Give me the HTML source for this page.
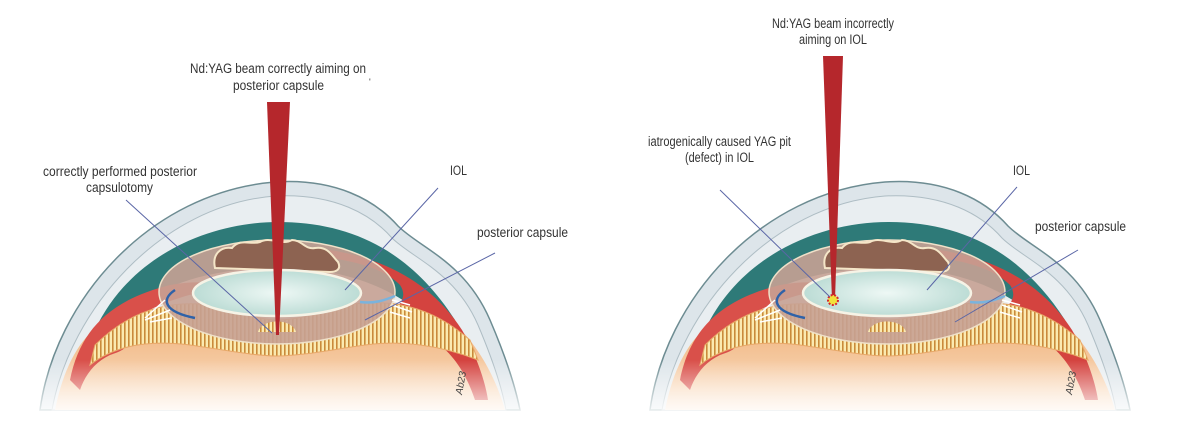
<!DOCTYPE html>
<html><head><meta charset="utf-8"><style>
html,body{margin:0;padding:0;background:#fff;width:1200px;height:421px;overflow:hidden}
text{font-family:"Liberation Sans",sans-serif;font-size:13.5px;fill:#333}
</style></head><body>
<svg width="1200" height="421" viewBox="0 0 1200 421" xmlns="http://www.w3.org/2000/svg">
<defs>
<pattern id="st" width="4" height="10" patternUnits="userSpaceOnUse">
<rect width="4" height="10" fill="#fbeab0"/><rect width="1.6" height="10" fill="#c98a3a"/>
</pattern>
<linearGradient id="vit" x1="0" y1="0" x2="0" y2="1">
<stop offset="0" stop-color="#f0b27a"/><stop offset="1" stop-color="#fbe3cc"/>
</linearGradient>
<linearGradient id="fade" x1="0" y1="0" x2="0" y2="1">
<stop offset="0" stop-color="#fff" stop-opacity="0"/><stop offset="1" stop-color="#fff" stop-opacity="1"/>
</linearGradient>
<radialGradient id="iol" cx="0.5" cy="0.5" r="0.5">
<stop offset="0" stop-color="#eef8f5"/><stop offset="1" stop-color="#bcdcd5"/>
</radialGradient>
<g id="eye">
<path d="M40,410 C55,300 150,192 275,182 C335,178 375,200 398,226 C420,248 465,262 490,320 C505,355 515,385 520,410 Z" fill="#dde5ea" stroke="#6d8c92" stroke-width="1.5"/>
<path d="M52,410 C70,310 160,205 275,196 C335,193 372,215 392,238 C412,258 455,272 478,325 C492,358 502,388 506,410 Z" fill="#e9eef1" stroke="#aebdc4" stroke-width="1"/>
<path d="M95,330 C130,255 210,222 278,222 C350,222 410,250 455,320 L440,330 C400,290 350,268 278,268 C200,268 140,290 110,335 Z" fill="#2e7a78"/>
<path d="M55,410 C65,360 85,330 110,320 L450,320 C475,340 495,375 505,410 Z" fill="url(#vit)"/>
<path d="M70,380 C80,330 110,300 170,285 C200,280 215,282 200,292 C170,300 140,310 125,330 C115,345 140,345 110,355 C95,362 85,375 80,390 Z" fill="#d9504a"/>
<path d="M330,250 C380,258 430,280 462,330 C475,352 485,380 488,400 L475,400 C465,370 450,350 430,338 C420,330 400,322 380,318 C395,310 410,300 400,285 C385,270 360,262 330,258 Z" fill="#d4433f"/>
<path d="M95,345 C130,310 170,300 210,305 C240,312 260,320 277,320 C300,320 320,312 345,305 C390,298 430,305 470,340 L478,360 C440,345 400,340 365,345 C330,350 300,356 277,356 C255,356 225,350 190,345 C150,340 115,345 90,365 Z" fill="url(#st)" stroke="#e8a868" stroke-width="1"/>
<ellipse cx="277" cy="292" rx="118" ry="52" fill="#c7a194" fill-opacity="0.9" stroke="#efe0c8" stroke-width="1.5"/>
<path d="M258,332 C262,318 292,318 296,332 Z" fill="url(#st)"/>
<path d="M215,268 C212,255 220,246 232,248 C240,238 250,245 260,242 C270,236 282,246 292,240 C302,240 305,250 315,248 C328,246 332,256 338,262 C342,270 335,272 330,272 Z" fill="#8d6351" stroke="#f5e6c8" stroke-width="2"/>
<ellipse cx="277" cy="293" rx="84" ry="23" fill="url(#iol)" stroke="#f6f3e6" stroke-width="2.5"/>
<path d="M175,290 C160,300 165,312 195,318" fill="none" stroke="#2f62a8" stroke-width="2.5"/>
<path d="M360,302 C375,304 385,300 395,296" fill="none" stroke="#7ab3dd" stroke-width="2.5"/>
<path d="M145,318 L165,300 M145,320 L170,310 M150,322 L172,318" stroke="#fff" stroke-width="1.5"/>
<path d="M392,300 L410,305 M392,305 L412,312 M390,312 L410,318" stroke="#fff" stroke-width="1.5"/>
<rect x="30" y="360" width="500" height="61" fill="url(#fade)"/>
<text x="462" y="395" transform="rotate(-80 462 395)" style="font-size:10px;font-style:italic;fill:#444">Ab23</text>
</g>
</defs>

<use href="#eye"/>
<use href="#eye" transform="translate(610,0)"/>

<path d="M267,102 L290,102 L279,335 L276,335 Z" fill="#b5272c"/>
<path d="M823,56 L843,56 L835,300 L832,300 Z" fill="#b5272c"/>
<circle cx="833" cy="300" r="5" fill="#f2e23a" stroke="#d9242a" stroke-width="2" stroke-dasharray="2 1.5"/>

<g stroke="#5a66a6" stroke-width="1">
<line x1="126" y1="200" x2="272" y2="333"/>
<line x1="438" y1="188" x2="345" y2="290"/>
<line x1="495" y1="253" x2="365" y2="320"/>
<line x1="720" y1="190" x2="830" y2="297"/>
<line x1="1017" y1="187" x2="927" y2="290"/>
<line x1="1078" y1="250" x2="955" y2="322"/>
</g>

<g lengthAdjust="spacingAndGlyphs">
<text x="190" y="73" textLength="176" lengthAdjust="spacingAndGlyphs">Nd:YAG beam correctly aiming on</text>
<text x="233" y="90" textLength="91" lengthAdjust="spacingAndGlyphs">posterior capsule</text>
<text x="43" y="176" textLength="154" lengthAdjust="spacingAndGlyphs">correctly performed posterior</text>
<text x="86" y="192" textLength="67" lengthAdjust="spacingAndGlyphs">capsulotomy</text>
<text x="772" y="28" textLength="122" lengthAdjust="spacingAndGlyphs">Nd:YAG beam incorrectly</text>
<text x="799" y="44" textLength="68" lengthAdjust="spacingAndGlyphs">aiming on IOL</text>
<text x="648" y="146" textLength="143" lengthAdjust="spacingAndGlyphs">iatrogenically caused YAG pit</text>
<text x="685" y="162" textLength="69" lengthAdjust="spacingAndGlyphs">(defect) in IOL</text>
<text x="450" y="175" textLength="17" lengthAdjust="spacingAndGlyphs">IOL</text>
<text x="477" y="237" textLength="91" lengthAdjust="spacingAndGlyphs">posterior capsule</text>
<text x="1013" y="175" textLength="17" lengthAdjust="spacingAndGlyphs">IOL</text>
<text x="1035" y="231" textLength="91" lengthAdjust="spacingAndGlyphs">posterior capsule</text>
</g>
<text x="369" y="85" style="font-size:9px">'</text>
</svg>
</body></html>
